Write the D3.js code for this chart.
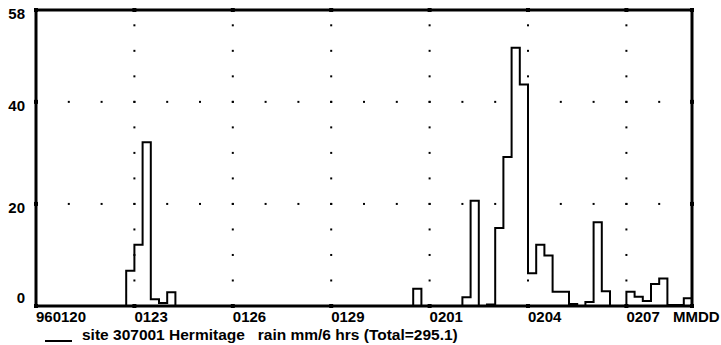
<!DOCTYPE html>
<html>
<head>
<meta charset="utf-8">
<script src="https://cdn.jsdelivr.net/npm/d3@7"></script>
<style>
  html, body { margin: 0; padding: 0; background: #fff; }
  svg { display: block; }
  text { font-family: "Liberation Sans", Arial, sans-serif; font-weight: bold; fill: #000; }
</style>
</head>
<body>
<svg id="chart" width="721" height="345"></svg>
<script>
// rain in mm per 6 hour block, starting 1996-01-20 00:00
const startDate = new Date(1996, 0, 20);
const endDate = new Date(1996, 1, 9);
const rain = [
  0, 0, 0, 0, 0, 0, 0, 0, 0, 0,
  0, 6.9, 12.0, 32.1, 1.3, 0.6, 2.7, 0, 0, 0,
  0, 0, 0, 0, 0, 0, 0, 0, 0, 0,
  0, 0, 0, 0, 0, 0, 0, 0, 0, 0,
  0, 0, 0, 0, 0, 0, 3.4, 0, 0, 0,
  0, 0, 1.7, 20.6, 0, 0.3, 15.3, 29.2, 50.6, 43.4,
  6.4, 12.0, 9.9, 2.8, 2.8, 0.4, 0, 0.8, 16.4, 2.9,
  0, 0, 2.8, 1.8, 1.0, 4.3, 5.4, 0.2, 0.2, 1.5
];
const yTicks = [0, 20, 40, 58];
const xTickDays = [0, 3, 6, 9, 12, 15, 18];
const xTickLabels = ['960120', '0123', '0126', '0129', '0201', '0204', '0207'];
const unitLabel = 'MMDD';
const legendText = 'site 307001 Hermitage   rain mm/6 hrs (Total=295.1)';

const margin = { left: 36, right: 29, top: 10, bottom: 39 };
const width = 721, height = 345;

const svg = d3.select('#chart');

const x = d3.scaleTime()
  .domain([startDate, endDate])
  .range([margin.left, width - margin.right]);
const y = d3.scaleLinear()
  .domain([0, 58])
  .range([height - margin.bottom, margin.top]);

const day = (n) => d3.timeDay.offset(startDate, n);
const block = (i) => d3.timeHour.offset(startDate, i * 6);

// dotted grid: horizontal rows at 20 and 40 (dot every day),
// vertical columns at labelled days (dot every 5 mm)
const grid = svg.append('g').attr('class', 'grid');
const dayIdx = d3.range(1, 20);
[20, 40].forEach((v) => {
  grid.selectAll(null)
    .data(dayIdx)
    .join('rect')
    .attr('x', (d) => x(day(d)) - 1)
    .attr('y', y(v) - 1)
    .attr('width', 2).attr('height', 2)
    .attr('fill', '#000');
});
const fives = d3.range(5, 58, 5);
xTickDays.slice(1).forEach((d) => {
  grid.selectAll(null)
    .data(fives)
    .join('rect')
    .attr('x', x(day(d)) - 1)
    .attr('y', (v) => y(v) - 1)
    .attr('width', 2).attr('height', 2)
    .attr('fill', '#000');
});

// step outline of the rain totals
const pts = [[x(block(0)), y(0)]];
rain.forEach((v, i) => {
  pts.push([x(block(i)), y(v)]);
  pts.push([x(block(i + 1)), y(v)]);
});
pts.push([x(block(rain.length)), y(0)]);

svg.append('path')
  .attr('d', d3.line()(pts))
  .attr('fill', 'none')
  .attr('stroke', '#000')
  .attr('stroke-width', 2)
  .attr('stroke-linejoin', 'miter');

// frame
svg.append('rect')
  .attr('x', x.range()[0])
  .attr('y', y(58))
  .attr('width', x.range()[1] - x.range()[0])
  .attr('height', y(0) - y(58))
  .attr('fill', 'none')
  .attr('stroke', '#000')
  .attr('stroke-width', 3);

// heavy tick dots on the frame
const tickDots = svg.append('g');
xTickDays.forEach((d) => {
  [y(0), y(58)].forEach((yy) => {
    tickDots.append('rect')
      .attr('x', x(day(d)) - 2).attr('y', yy - 2)
      .attr('width', 4).attr('height', 4).attr('fill', '#000');
  });
});
yTicks.forEach((v) => {
  x.range().forEach((xx) => {
    tickDots.append('rect')
      .attr('x', xx - 2).attr('y', y(v) - 2)
      .attr('width', 4).attr('height', 4).attr('fill', '#000');
  });
});

// y labels
svg.append('g')
  .selectAll('text')
  .data(yTicks)
  .join('text')
  .attr('x', 25)
  .attr('y', (v) => (v === 0 ? y(v) - 3 : y(v) + 9))
  .attr('text-anchor', 'end')
  .attr('font-size', 15)
  .text((v) => v);

// x labels, left aligned at the tick
svg.append('g')
  .selectAll('text')
  .data(xTickDays)
  .join('text')
  .attr('x', (d) => x(day(d)))
  .attr('y', 322)
  .attr('font-size', 15)
  .text((d, i) => xTickLabels[i]);

svg.append('text')
  .attr('x', 673)
  .attr('y', 322)
  .attr('font-size', 15)
  .text(unitLabel);

// legend
svg.append('line')
  .attr('x1', 45).attr('x2', 72)
  .attr('y1', 341).attr('y2', 341)
  .attr('stroke', '#000')
  .attr('stroke-width', 2);
svg.append('text')
  .attr('x', 82)
  .attr('y', 340)
  .attr('font-size', 15.5)
  .attr('xml:space', 'preserve')
  .style('white-space', 'pre')
  .text(legendText);
</script>
</body>
</html>
